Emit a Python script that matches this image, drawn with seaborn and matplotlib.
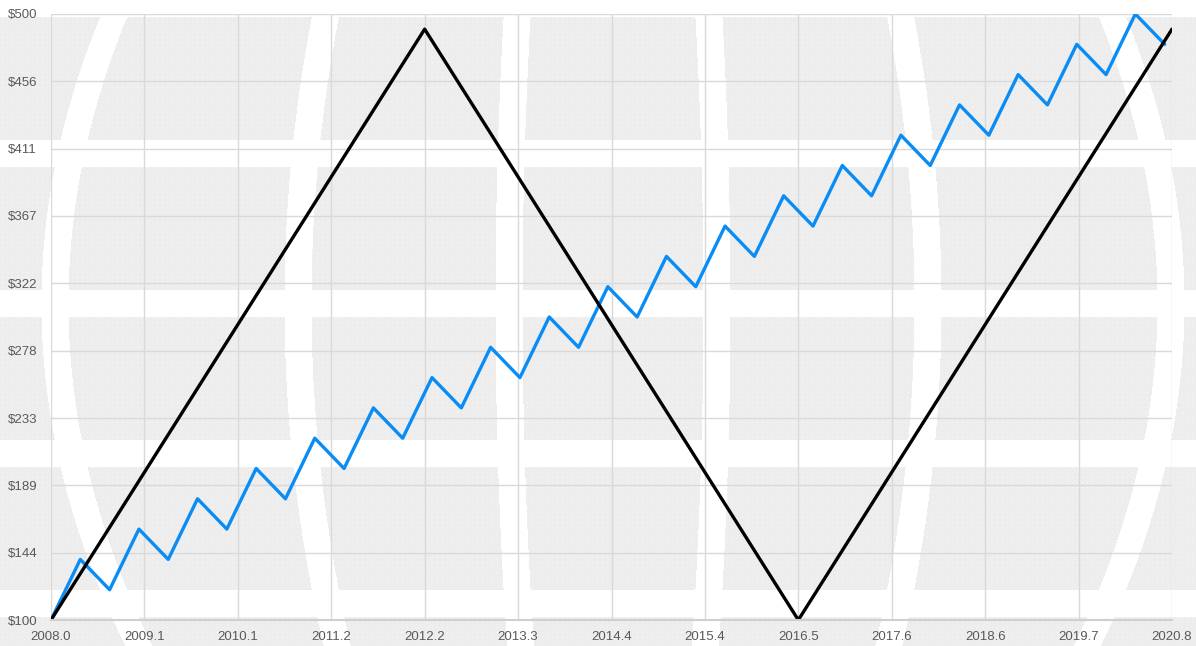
import numpy as np
import pandas as pd
import seaborn as sns
import matplotlib.pyplot as plt


# blue series: one point every 4 months from Jan 2008
blue_months = [0, 4, 8, 12, 16, 20, 24, 28, 32, 36, 40, 44, 48, 52, 56, 60, 64, 68, 72,
               76, 80, 84, 88, 92, 96, 100, 104, 108, 112, 116, 120, 124, 128, 132, 136,
               140, 144, 148, 152]
blue_values = [100, 140, 120, 160, 140, 180, 160, 200, 180, 220, 200, 240, 220, 260, 240,
               280, 260, 300, 280, 320, 300, 340, 320, 360, 340, 380, 360, 400, 380, 420,
               400, 440, 420, 460, 440, 480, 460, 500, 480]

# black series: turning points
black_months = [0, 51, 102, 153]
black_values = [100, 490, 100, 490]

x_ticks = [2008.0, 2009.0625, 2010.125, 2011.1875, 2012.25, 2013.3125, 2014.375,
           2015.4375, 2016.5, 2017.5625, 2018.625, 2019.6875, 2020.75]
x_labels = ["2008.0", "2009.1", "2010.1", "2011.2", "2012.2", "2013.3", "2014.4",
            "2015.4", "2016.5", "2017.6", "2018.6", "2019.7", "2020.8"]
y_ticks = [100, 144.44, 188.89, 233.33, 277.78, 322.22, 366.67, 411.11, 455.56, 500]
y_labels = ["$100", "$144", "$189", "$233", "$278", "$322", "$367", "$411", "$456", "$500"]

blue_df = pd.DataFrame({"year": [2008 + m / 12 for m in blue_months], "value": blue_values})
black_df = pd.DataFrame({"year": [2008 + m / 12 for m in black_months], "value": black_values})

sns.set_style("white")
plt.rcParams["font.family"] = ["Liberation Sans", "DejaVu Sans"]

W, H = 1196, 646
fig = plt.figure(figsize=(W / 100, H / 100), dpi=100)

# background picture: grey globe-like tiles with a dotted texture
yy, xx = np.mgrid[0:H, 0:W].astype(float)
white = np.zeros((H, W), dtype=bool)
r = (yy - 3) % 150
white |= (r < 13.5) | (r > 136.5)
d2 = ((yy - 303) / 285.0) ** 2
off = np.abs(xx - 612.5)
for base, a in [(104, 0.077), (315, 0.086), (558, 0.104)]:
    white |= np.abs(off - base * (1 - a * d2)) < 13.5
img = np.ones((H, W, 3))
grey = ~white
img[grey] = 0.93
dots = grey & (xx.astype(int) % 5 == 2) & (yy.astype(int) % 5 == 2)
img[dots] = 0.97
bg = fig.add_axes([0, 0, 1, 1], zorder=-1)
bg.imshow(img, aspect="auto", interpolation="nearest")
bg.axis("off")

ax = fig.add_axes([51 / W, 26 / H, 1121 / W, 606 / H])
ax.set_facecolor("none")

sns.lineplot(data=blue_df, x="year", y="value", ax=ax, color="#0A8CF5", linewidth=2.4,
             estimator=None, solid_joinstyle="round", solid_capstyle="round")
sns.lineplot(data=black_df, x="year", y="value", ax=ax, color="black", linewidth=2.4,
             estimator=None, solid_joinstyle="round", solid_capstyle="round")

ax.set_xlim(2008.0, 2020.75)
ax.set_ylim(100, 500)
ax.set_xticks(x_ticks)
ax.set_xticklabels(x_labels)
ax.set_yticks(y_ticks)
ax.set_yticklabels(y_labels)
ax.set_xlabel("")
ax.set_ylabel("")
ax.grid(True, color="#D9D9D9", linewidth=1)
ax.set_axisbelow(True)
for s in ["top", "right", "left"]:
    ax.spines[s].set_visible(False)
ax.spines["bottom"].set_color("#CFCFCF")
ax.spines["bottom"].set_linewidth(1.5)
ax.tick_params(axis="both", length=0, labelsize=9.5, labelcolor="#595959")
ax.tick_params(axis="x", pad=8)
ax.tick_params(axis="y", pad=10)

fig.savefig("out.png", dpi=100)
